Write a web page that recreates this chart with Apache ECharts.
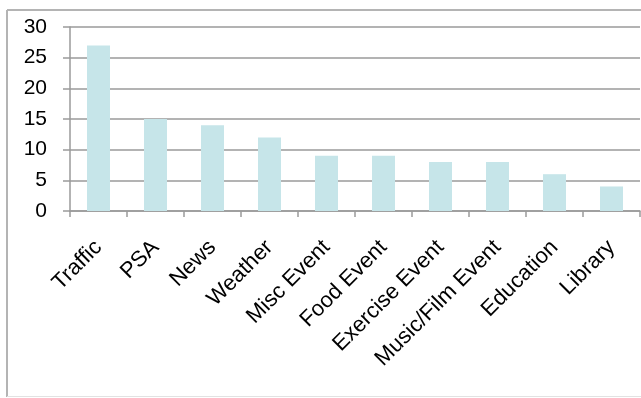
<!DOCTYPE html>
<html>
<head>
<meta charset="utf-8">
<script src="https://cdn.jsdelivr.net/npm/echarts@6/dist/echarts.min.js"></script>
<style>
html,body{margin:0;padding:0;background:#fff;}
#chart{width:641px;height:398px;}
</style>
</head>
<body>
<div id="chart"></div>
<script>
const categories = ['Traffic','PSA','News','Weather','Misc Event','Food Event','Exercise Event','Music/Film Event','Education','Library'];
const values = [27, 15, 14, 12, 9, 9, 8, 8, 6, 4];
const yTicks = [0, 5, 10, 15, 20, 25, 30];

const chart = echarts.init(document.getElementById('chart'), null, {renderer:'canvas'});
chart.setOption({
  animation: false,
  backgroundColor: '#fff',
  graphic: [
    {type:'line', shape:{x1:7, y1:10, x2:641, y2:10}, style:{stroke:'#b4b4b4', lineWidth:2}, silent:true},
    {type:'line', shape:{x1:7, y1:10, x2:7, y2:397}, style:{stroke:'#b4b4b4', lineWidth:2}, silent:true},
    {type:'line', shape:{x1:7, y1:396.5, x2:641, y2:396.5}, style:{stroke:'#e2e2e2', lineWidth:1}, silent:true}
  ],
  grid: {left:70, right:1, top:27, bottom:187, containLabel:false},
  xAxis: {
    type:'category',
    data: categories,
    axisLine:{lineStyle:{color:'#9a9a9a', width:1.5}},
    axisTick:{show:true, length:6, lineStyle:{color:'#9a9a9a', width:1.5}},
    axisLabel:{rotate:45, interval:0, margin:33, fontFamily:'Liberation Sans', fontSize:22, color:'#000'}
  },
  yAxis: {
    type:'value',
    min: yTicks[0], max: yTicks[yTicks.length-1], interval: 5,
    axisLine:{show:true, lineStyle:{color:'#9a9a9a', width:1.5}},
    axisTick:{show:true, length:7, lineStyle:{color:'#9a9a9a', width:1.5}},
    splitLine:{show:true, lineStyle:{color:'#9a9a9a', width:1.5}},
    axisLabel:{margin:23, fontFamily:'Liberation Sans', fontSize:21, color:'#000'}
  },
  series: [{
    type:'bar',
    data: values,
    barWidth: 23,
    itemStyle:{color:'#c6e5e9'}
  }]
});
</script>
</body>
</html>
